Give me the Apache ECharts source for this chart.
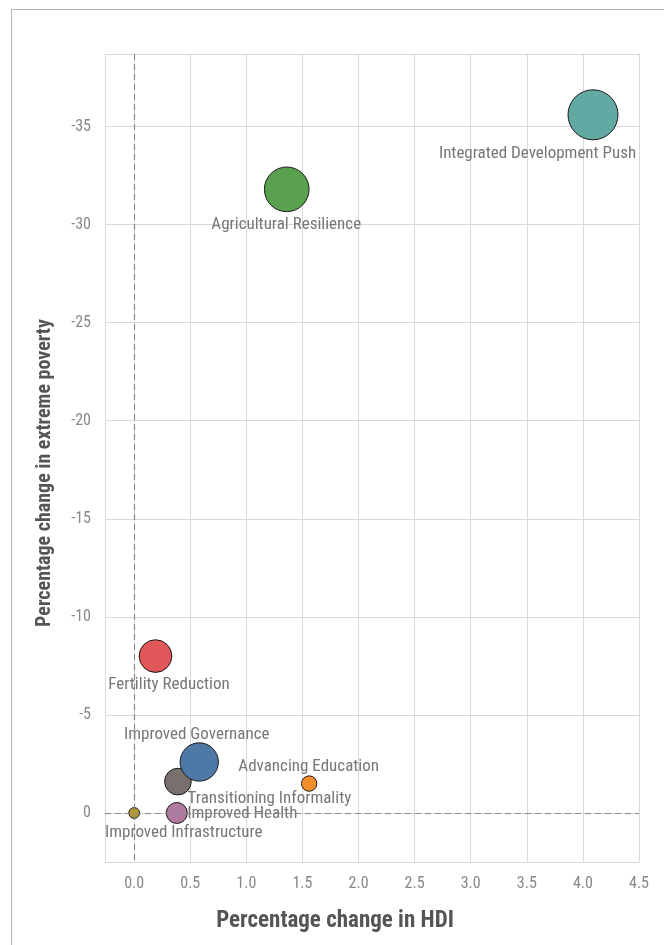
<!DOCTYPE html>
<html>
<head>
<meta charset="utf-8">
<script src="https://cdn.jsdelivr.net/npm/echarts@6/dist/echarts.min.js"></script>
<style>
html,body{margin:0;padding:0;background:#fff;}
#frame{position:absolute;left:11px;top:9px;width:700px;height:1000px;border:1.5px solid #b5b5b5;box-sizing:border-box;}
#chart{position:absolute;left:0;top:0;width:664px;height:945px;}
</style>
</head>
<body>
<div id="frame"></div>
<div id="chart"></div>
<script>
var scenarios = ['Transitioning Informality','Improved Governance','Integrated Development Push','Agricultural Resilience','Fertility Reduction','Advancing Education','Improved Health','Improved Infrastructure'];
var hdiChange = [0.39, 0.58, 4.09, 1.36, 0.19, 1.56, 0.38, 0.0];
var povertyChange = [-1.6, -2.6, -35.6, -31.8, -8.0, -1.5, 0.0, 0.0];
var magnitude = [178, 367, 625, 499, 267, 59, 110, 29];
var xTicks = [0.0, 0.5, 1.0, 1.5, 2.0, 2.5, 3.0, 3.5, 4.0, 4.5];
var yTicks = [-35, -30, -25, -20, -15, -10, -5, 0];

var colors = ['#79706e','#4e79a7','#62a8a3','#59a14f','#e15759','#f28e2b','#b07aa1','#b6992d'];
var labelOffsets = [[92,18],[-2,-27],[-55,39],[0,36],[14,29],[0,-16],[66,1],[50,20]];

var FONT = "'Liberation Sans Narrow','Roboto Condensed','DejaVu Sans Condensed',sans-serif";

function diam(m){ return 2*Math.sqrt(m); }

var data = scenarios.map(function(n,i){
  var d = diam(magnitude[i]);
  return {
    name: n,
    value: [hdiChange[i], povertyChange[i], magnitude[i]],
    itemStyle: {color: colors[i], borderColor: '#1a1a1a', borderWidth: 1, opacity: 1},
    label: {position: [d/2 + labelOffsets[i][0], d/2 + labelOffsets[i][1]], align: 'center', verticalAlign: 'middle'}
  };
});

function isTick(v, arr){
  for (var i=0;i<arr.length;i++){ if (Math.abs(arr[i]-v) < 1e-6) return true; }
  return false;
}

var chart = echarts.init(document.getElementById('chart'), null, {renderer:'canvas'});
chart.setOption({
  animation: false,
  grid: {left: 105, right: 25, top: 54, bottom: 83, containLabel: false},
  xAxis: {
    type: 'value', min: -0.26, max: 4.5, splitNumber: 10,
    name: 'Percentage change in HDI', nameLocation: 'middle', nameGap: 48,
    nameTextStyle: {fontFamily: FONT, fontSize: 23, fontWeight: 'bold', color: '#555', padding: [0, 74, 0, 0]},
    axisLine: {show: true, lineStyle: {color: '#d9d9d9', width: 1}},
    axisTick: {show: true, length: 7, lineStyle: {color: '#d9d9d9'}},
    splitLine: {show: true, lineStyle: {color: '#d9d9d9', width: 1}},
    axisLabel: {fontFamily: FONT, fontSize: 16, color: '#888', margin: 14, showMinLabel: true, showMaxLabel: true,
      formatter: function(v){ return isTick(v, xTicks) ? v.toFixed(1) : ''; }}
  },
  yAxis: {
    type: 'value', inverse: true, min: -38.7, max: 2.5, splitNumber: 8,
    name: 'Percentage change in extreme poverty', nameLocation: 'middle', nameGap: 50,
    nameTextStyle: {fontFamily: FONT, fontSize: 20, fontWeight: 'bold', color: '#555', padding: [0, 30, 0, 0]},
    axisLine: {show: true, lineStyle: {color: '#d9d9d9', width: 1}},
    axisTick: {show: true, length: 7, lineStyle: {color: '#d9d9d9'}},
    splitLine: {show: true, lineStyle: {color: '#d9d9d9', width: 1}},
    axisLabel: {fontFamily: FONT, fontSize: 16, color: '#888', margin: 14,
      formatter: function(v){ return isTick(v, yTicks) ? String(Math.round(v)) : ''; }}
  },
  series: [{
    type: 'scatter',
    data: data,
    symbolSize: function(val){ return diam(val[2]); },
    label: {show: true, formatter: '{b}', fontFamily: FONT, fontSize: 17, color: '#777'},
    labelLayout: {hideOverlap: false},
    markLine: {
      silent: true, symbol: 'none', animation: false,
      lineStyle: {color: '#888', type: [6, 4], width: 1.2},
      label: {show: false},
      data: [{xAxis: 0}, {yAxis: 0}]
    },
    z: 3
  }]
});
</script>
</body>
</html>
